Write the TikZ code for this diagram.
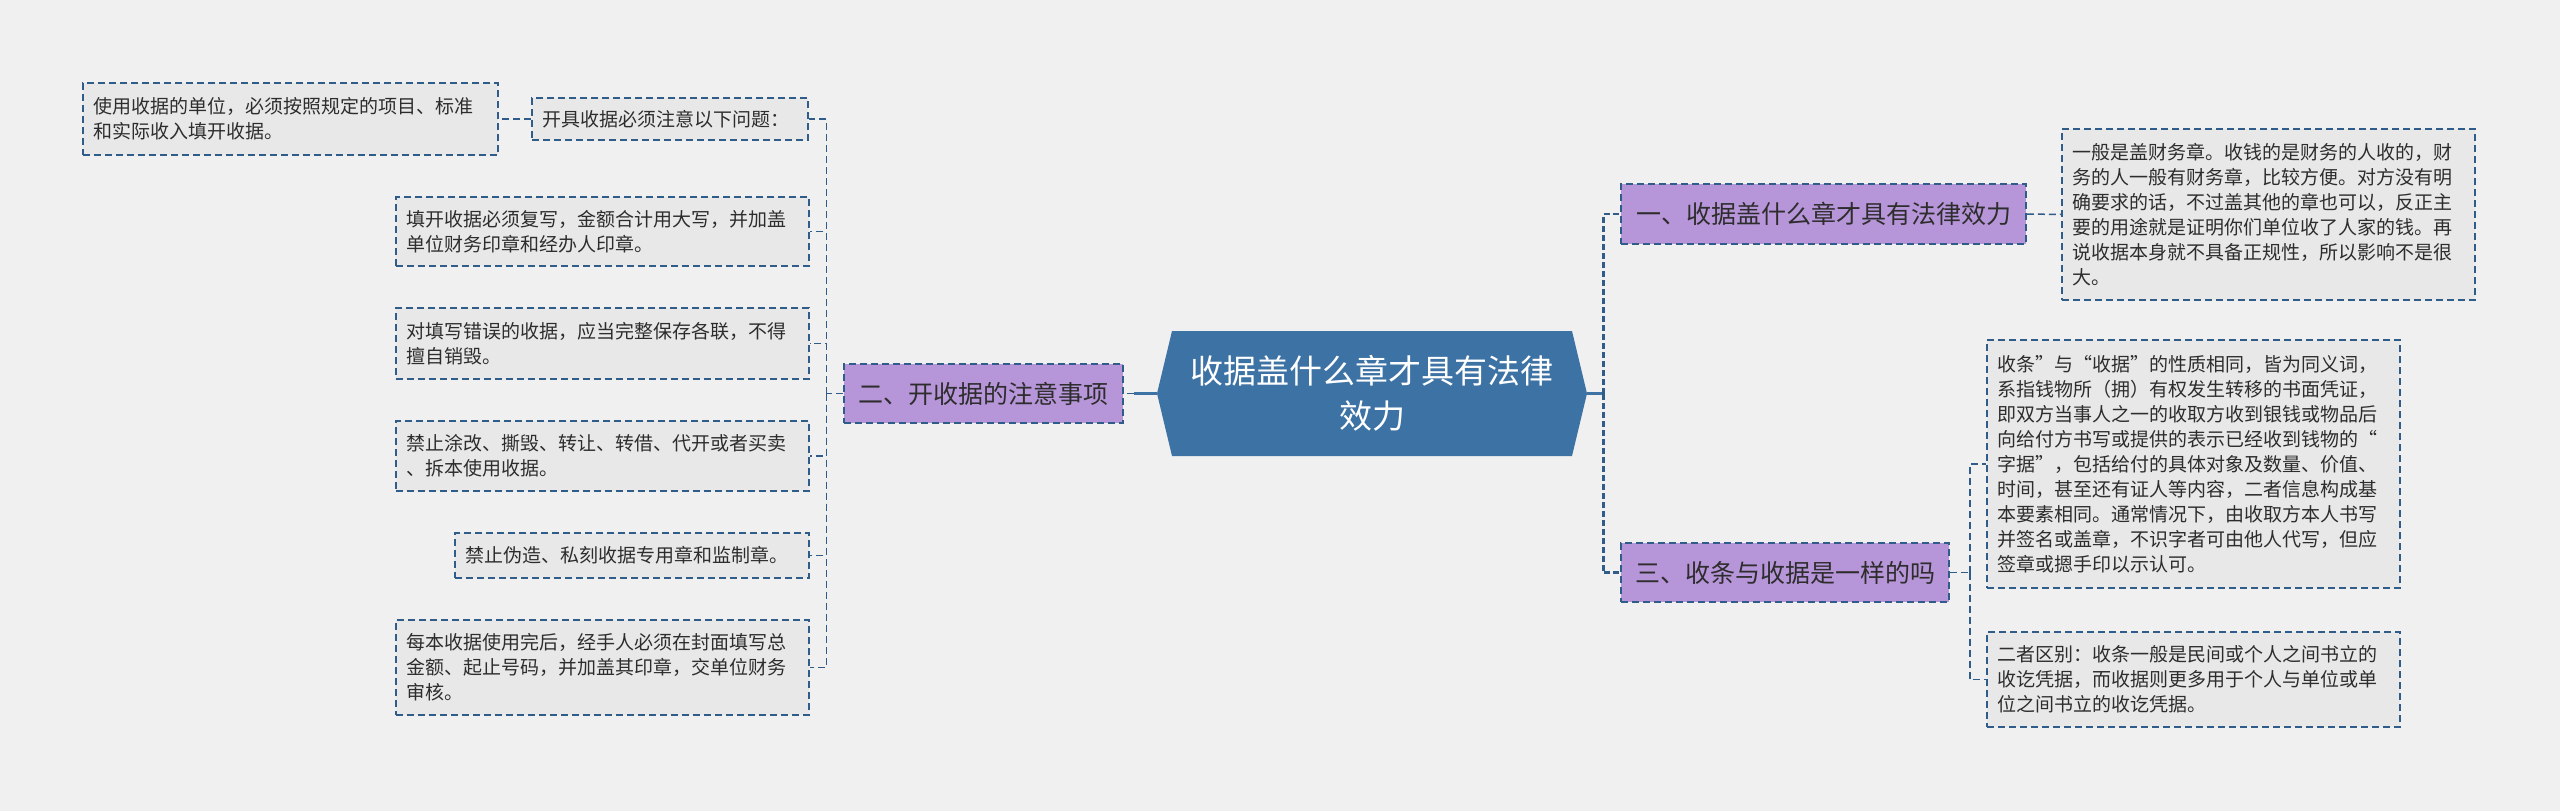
\documentclass[tikz,border=0pt]{standalone}
\usepackage{fontspec}
\setmainfont{Noto Sans CJK SC}
\usetikzlibrary{shapes.symbols}

\definecolor{bgcol}{RGB}{240,240,240}
\definecolor{hexblue}{RGB}{61,114,164}
\definecolor{branchpurple}{RGB}{183,149,217}
\definecolor{edgeblue}{RGB}{47,92,136}
\definecolor{leafgray}{RGB}{232,232,232}
\definecolor{txtgray}{RGB}{45,45,45}

\tikzset{
  leaf/.style={draw=edgeblue, dash pattern=on 7pt off 4pt, line width=1.5pt,
    fill=leafgray, text=txtgray, inner xsep=10pt, inner ysep=0pt, align=left,
    font=\fontsize{19}{25}\selectfont},
  branch/.style={draw=edgeblue, dash pattern=on 7pt off 4pt, line width=1.5pt,
    fill=branchpurple, text=txtgray, inner sep=0pt, align=center,
    font=\fontsize{25}{30}\selectfont},
  link/.style={draw=edgeblue, dash pattern=on 7pt off 4pt, line width=1.5pt},
  trunk/.style={draw=edgeblue, dash pattern=on 6pt off 3pt, line width=2.6pt},
  stem/.style={draw=hexblue, line width=3pt}
}

\begin{document}
\begin{tikzpicture}[x=1pt, y=-1pt]
	% Draw the background
	\fill[bgcol] (0,0) rectangle (2560,811);
	\useasboundingbox (0,0) rectangle (2560,811);

	% Draw the centre
	\node[signal, signal to=east and west, signal pointer angle=153, fill=hexblue,
		minimum width=430pt, minimum height=125pt, inner sep=0pt, text=white,
		align=center, font=\fontsize{33}{45}\selectfont] (c) at (1372,393.5)
		{收据盖什么章才具有法律\\效力};

	% Draw the branches
	\node[branch, minimum width=279pt, minimum height=59pt] (b2) at (983.5,393.5) {二、开收据的注意事项};
	\node[branch, minimum width=405pt, minimum height=60pt] (b1) at (1823.5,214) {一、收据盖什么章才具有法律效力};
	\node[branch, minimum width=328pt, minimum height=59pt] (b3) at (1785,572.5) {三、收条与收据是一样的吗};

	% Draw the left leaves
	\node[leaf, text width=395pt, minimum height=72pt] (l0) at (290.5,119)
		{使用收据的单位，必须按照规定的项目、标准\\和实际收入填开收据。};
	\node[leaf, text width=256pt, minimum height=42pt] (l1) at (670,119)
		{开具收据必须注意以下问题：};
	\node[leaf, text width=393pt, minimum height=69pt] (l2) at (602.5,231.5)
		{填开收据必须复写，金额合计用大写，并加盖\\单位财务印章和经办人印章。};
	\node[leaf, text width=393pt, minimum height=71pt] (l3) at (602.5,343.5)
		{对填写错误的收据，应当完整保存各联，不得\\擅自销毁。};
	\node[leaf, text width=393pt, minimum height=70pt] (l4) at (602.5,456)
		{禁止涂改、撕毁、转让、转借、代开或者买卖\\、拆本使用收据。};
	\node[leaf, text width=334pt, minimum height=45pt] (l5) at (632,555.5)
		{禁止伪造、私刻收据专用章和监制章。};
	\node[leaf, text width=393pt, minimum height=95pt] (l6) at (602.5,667.5)
		{每本收据使用完后，经手人必须在封面填写总\\金额、起止号码，并加盖其印章，交单位财务\\审核。};

	% Draw the right leaves
	\node[leaf, text width=393pt, minimum height=171pt] (r1) at (2268.5,214.5)
		{一般是盖财务章。收钱的是财务的人收的，财\\务的人一般有财务章，比较方便。对方没有明\\确要求的话，不过盖其他的章也可以，反正主\\要的用途就是证明你们单位收了人家的钱。再\\说收据本身就不具备正规性，所以影响不是很\\大。};
	\node[leaf, text width=393pt, minimum height=248pt] (r2) at (2193.5,464)
		{收条”与“收据”的性质相同，皆为同义词，\\系指钱物所（拥）有权发生转移的书面凭证，\\即双方当事人之一的收取方收到银钱或物品后\\向给付方书写或提供的表示已经收到钱物的“\\字据”，包括给付的具体对象及数量、价值、\\时间，甚至还有证人等内容，二者信息构成基\\本要素相同。通常情况下，由收取方本人书写\\并签名或盖章，不识字者可由他人代写，但应\\签章或摁手印以示认可。};
	\node[leaf, text width=393pt, minimum height=95pt] (r3) at (2193.5,679.5)
		{二者区别：收条一般是民间或个人之间书立的\\收讫凭据，而收据则更多用于个人与单位或单\\位之间书立的收讫凭据。};

	% Draw the wires on the left
	\draw[stem] (c.west) -- ++(-23,0) coordinate (cw);
	\draw[link] (cw) -- (b2.east);
	\draw[link] (b2.west) -- ++(-17,0) coordinate (t2);
	\foreach \n in {l1,l2,l3,l4,l5,l6}
		\draw[link] (t2) |- (\n.east);
	\draw[link] (l1.west) -- (l0.east);

	% Draw the wires on the right
	\draw[stem] (c.east) -- ++(16,0) coordinate (t1);
	\draw[trunk] (t1) |- (b1.west);
	\draw[trunk] (t1) |- (b3.west);
	\draw[link] (b1.east) -- (r1.west);
	\draw[link] (b3.east) -- ++(20,0) coordinate (t3);
	\draw[link] (t3) |- (r2.west);
	\draw[link] (t3) |- (r3.west);
\end{tikzpicture}
\end{document}
